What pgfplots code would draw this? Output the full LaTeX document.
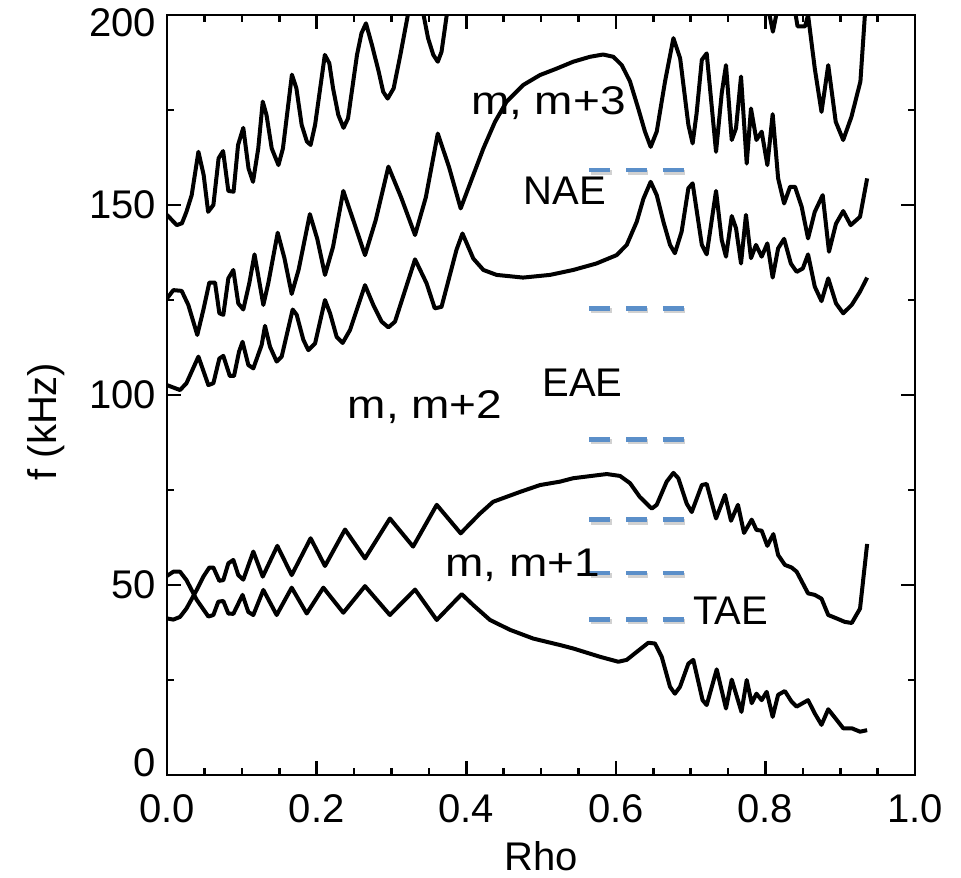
\documentclass[border=0pt]{standalone}
\usepackage{fontspec}
\setmainfont{Liberation Sans}
\usepackage{graphicx}
\usepackage{pgfplots}
\pgfplotsset{compat=1.18}
\definecolor{dashblue}{RGB}{91,143,201}
\pgfplotstableread{
x y
0.000 147.4
0.013 144.7
0.020 145.2
0.026 148.2
0.033 152.6
0.042 164.0
0.049 157.9
0.055 148.2
0.062 150.0
0.069 162.3
0.075 164.2
0.082 153.7
0.089 153.5
0.095 165.8
0.102 170.3
0.109 159.6
0.115 156.1
0.122 164.9
0.128 177.2
0.133 173.7
0.140 164.9
0.149 160.5
0.155 164.9
0.167 184.3
0.173 180.7
0.180 171.1
0.187 166.7
0.192 165.8
0.198 171.1
0.211 189.5
0.217 187.3
0.222 180.7
0.229 173.7
0.236 170.3
0.242 172.8
0.254 189.5
0.260 195.2
0.266 197.8
0.274 192.1
0.283 185.1
0.289 179.8
0.295 178.0
0.303 180.7
0.312 189.5
0.322 200.0
0.332 207.0
0.343 200.0
0.349 193.9
0.356 189.5
0.362 187.7
0.367 190.3
0.374 200.0
0.385 215.0
0.400 230.0
0.780 230.0
0.800 210.0
0.805 200.5
0.810 195.6
0.815 200.5
0.828 206.0
0.840 200.5
0.843 197.0
0.853 197.0
0.857 200.0
0.866 185.9
0.875 174.5
0.884 186.8
0.894 171.9
0.904 167.1
0.915 173.2
0.927 182.5
0.933 200.0
0.936 210.0
}\curveA
\pgfplotstableread{
x y
0.000 125.4
0.0085 127.6
0.0196 127.4
0.0285 123.7
0.0405 115.8
0.0486 122.4
0.0566 129.6
0.0642 129.6
0.070 121.5
0.0753 121.1
0.082 130.7
0.0887 132.9
0.0953 124.1
0.102 122.5
0.110 129.4
0.117 137.0
0.1288 123.7
0.1354 129.4
0.148 142.7
0.157 136.0
0.1667 126.6
0.176 133.0
0.191 147.6
0.201 141.0
0.2112 131.6
0.222 139.0
0.2357 153.7
0.249 146.0
0.2647 136.8
0.279 146.0
0.296 160.1
0.313 152.0
0.3316 142.1
0.346 152.0
0.362 168.8
0.377 160.0
0.3926 149.1
0.4095 157.9
0.423 164.9
0.4385 171.9
0.454 177.2
0.4764 181.6
0.4987 184.2
0.521 185.9
0.543 187.7
0.5655 189.0
0.583 189.6
0.5967 189.0
0.608 186.8
0.619 182.5
0.630 175.4
0.639 169.3
0.6466 165.3
0.6547 169.3
0.6658 182.5
0.677 193.9
0.686 188.6
0.697 171.1
0.7027 166.2
0.708 174.1
0.715 188.2
0.7215 189.9
0.734 164.0
0.7416 179.4
0.7473 186.8
0.755 167.1
0.7607 170.2
0.7674 183.8
0.775 160.9
0.7807 175.4
0.788 167.1
0.795 169.3
0.8026 160.5
0.8097 173.9
0.817 157.0
0.825 150.4
0.833 154.8
0.8396 154.8
0.8485 149.5
0.857 141.2
0.866 148.2
0.8766 152.6
0.885 137.7
0.8944 145.1
0.904 148.4
0.914 144.7
0.9265 146.9
0.936 157.0
}\curveB
\pgfplotstableread{
x y
0.000 102.6
0.0174 101.3
0.026 103.1
0.042 110.1
0.0553 102.6
0.062 103.1
0.070 109.6
0.0753 110.3
0.084 105.0
0.0896 105.0
0.0963 111.4
0.101 114.0
0.1087 107.9
0.1154 107.0
0.1266 113.2
0.131 118.2
0.1377 112.7
0.1466 108.8
0.1533 110.1
0.168 122.5
0.1734 121.1
0.1823 114.5
0.189 111.8
0.198 113.6
0.2112 125.0
0.218 121.5
0.2268 115.3
0.2348 113.7
0.2447 117.1
0.2647 128.9
0.2758 123.7
0.287 119.3
0.296 117.8
0.3048 119.3
0.3316 135.7
0.347 129.4
0.358 122.8
0.367 123.2
0.387 138.2
0.395 142.5
0.4095 135.9
0.423 132.9
0.4407 131.6
0.476 130.9
0.512 131.6
0.543 132.9
0.574 134.6
0.601 136.8
0.6146 139.5
0.628 145.6
0.637 151.7
0.6466 156.1
0.6547 152.6
0.6636 145.6
0.6725 139.5
0.679 137.3
0.688 143.0
0.697 154.4
0.7027 155.7
0.715 139.5
0.7215 137.0
0.734 153.7
0.7416 140.8
0.7473 136.4
0.755 147.1
0.7607 143.9
0.7674 134.6
0.774 147.4
0.7807 136.0
0.7874 139.5
0.795 136.4
0.8026 139.9
0.8097 130.9
0.817 138.6
0.825 141.1
0.834 134.6
0.8418 132.4
0.850 133.3
0.857 137.0
0.866 128.5
0.875 124.7
0.884 130.7
0.8944 124.1
0.904 121.5
0.9154 123.7
0.9265 127.2
0.936 130.9
}\curveC
\pgfplotstableread{
x y
0.000 52.4
0.0085 53.5
0.0174 53.5
0.026 51.3
0.0397 46.1
0.0553 41.7
0.062 42.1
0.0686 45.6
0.0753 45.8
0.082 42.5
0.0887 42.4
0.101 47.4
0.1087 42.9
0.1154 42.1
0.1288 48.7
0.1466 42.1
0.1667 49.3
0.1868 42.5
0.209 49.3
0.2357 42.7
0.2647 49.7
0.298 42.1
0.3316 48.8
0.3606 40.8
0.394 47.6
0.4095 44.7
0.4318 40.8
0.4586 38.2
0.4897 35.9
0.5254 34.2
0.543 33.3
0.579 31.1
0.6034 29.8
0.6146 30.3
0.628 32.4
0.6435 34.8
0.6524 34.6
0.6614 31.1
0.6725 23.2
0.679 21.4
0.6858 23.2
0.697 29.3
0.7036 30.3
0.716 19.7
0.7215 18.4
0.7349 27.8
0.7473 17.5
0.755 25.1
0.768 16.6
0.775 25.0
0.7817 18.9
0.788 21.4
0.795 19.7
0.8017 21.9
0.8097 15.3
0.817 21.1
0.826 22.1
0.835 19.3
0.8418 18.0
0.857 19.7
0.866 16.2
0.875 13.2
0.884 17.3
0.8953 14.5
0.904 12.3
0.9154 12.3
0.9265 11.4
0.936 11.8
}\curveD
\pgfplotstableread{
x y
0.000 41.2
0.0085 40.9
0.0174 41.6
0.026 43.8
0.0397 48.7
0.0486 52.2
0.0566 54.6
0.062 54.6
0.070 51.1
0.0753 51.3
0.082 55.7
0.0887 56.6
0.0953 52.6
0.102 51.4
0.1154 58.8
0.128 52.2
0.1475 60.3
0.1667 52.6
0.192 62.3
0.2112 55.0
0.238 64.6
0.2647 57.0
0.298 67.5
0.329 60.1
0.3606 71.1
0.3926 63.6
0.4184 68.8
0.436 71.9
0.472 74.5
0.4987 76.3
0.5254 77.2
0.543 78.1
0.588 79.2
0.6056 78.7
0.619 76.8
0.632 73.2
0.648 70.1
0.6547 71.1
0.668 77.2
0.677 79.5
0.6836 78.1
0.6948 71.4
0.7015 69.2
0.715 76.3
0.7215 76.6
0.734 67.5
0.746 73.7
0.754 66.9
0.7633 71.1
0.7714 63.7
0.7817 67.2
0.788 64.5
0.795 64.3
0.8026 60.3
0.8106 63.4
0.817 57.9
0.826 55.3
0.835 54.6
0.8418 53.5
0.857 47.8
0.866 47.4
0.875 46.4
0.884 42.1
0.8953 41.2
0.906 40.3
0.9154 40.0
0.9265 43.8
0.936 60.8
}\curveE
\begin{document}
\begin{tikzpicture}
\useasboundingbox (-83.5pt,-51pt) rectangle (397pt,387.5pt);
\begin{axis}[
  at={(0pt,0pt)}, anchor=south west,
  scale only axis, width=374pt, height=380pt,
  xmin=0, xmax=1, ymin=0, ymax=200,
  xtick={0,0.2,0.4,0.6,0.8,1.0}, minor x tick num=3,
  ytick={0,50,100,150,200}, minor y tick num=1,
  yticklabels={\raisebox{6pt}[\height][\depth]{0},50,100,150,\raisebox{-4pt}[\height][\depth]{200}},
  tick align=inside,
  major tick length=7pt, minor tick length=3.5pt,
  axis line style={line width=1.3pt},
  every tick/.style={black, line width=1.3pt},
  /pgf/number format/assume math mode=true,
  xticklabel={\pgfmathprintnumber[fixed,fixed zerofill,precision=1]{\tick}},
  tick label style={font=\fontsize{20}{24}\selectfont},
  xticklabel style={yshift=-6pt},
  yticklabel style={xshift=-2pt},
  xlabel={Rho}, ylabel={f (kHz)},
  label style={font=\fontsize{20}{24}\selectfont},
  xlabel style={at={(axis description cs:0.5,-0.107)}, anchor=center},
  ylabel style={at={(axis description cs:-0.162,0.465)}, anchor=center},
  curve/.style={black, no markers, line width=2pt, line join=round},
]
\addplot[curve] table {\curveA};
\addplot[curve] table {\curveB};
\addplot[curve] table {\curveC};
\addplot[curve] table {\curveD};
\addplot[curve] table {\curveE};
\foreach \yy in {159.2,122.8,88.3,67.2,53.1,40.9} {
  \addplot[black!30, no markers, opacity=0.6, line width=2.6pt, dash pattern=on 10.35pt off 8pt] coordinates {(0.5667,\yy-0.6) (0.6932,\yy-0.6)};
  \addplot[dashblue, no markers, line width=2.2pt, dash pattern=on 10.35pt off 8pt] coordinates {(0.5647,\yy) (0.6912,\yy)};
}
\node[font=\fontsize{20}{24}\selectfont, anchor=base] at (axis cs:0.5098,173.7) {\scalebox{1.15}[1]{m, m+3}};
\node[font=\fontsize{20}{24}\selectfont, anchor=base] at (axis cs:0.532,150.0) {NAE};
\node[font=\fontsize{20}{24}\selectfont, anchor=base] at (axis cs:0.345,93.9) {\scalebox{1.15}[1]{m, m+2}};
\node[font=\fontsize{20}{24}\selectfont, anchor=base] at (axis cs:0.5555,99.7) {EAE};
\node[font=\fontsize{20}{24}\selectfont, anchor=base] at (axis cs:0.4753,52.2) {\scalebox{1.15}[1]{m, m+1}};
\node[font=\fontsize{20}{24}\selectfont, anchor=base] at (axis cs:0.7537,39.7) {TAE};
\end{axis}
\end{tikzpicture}
\end{document}
